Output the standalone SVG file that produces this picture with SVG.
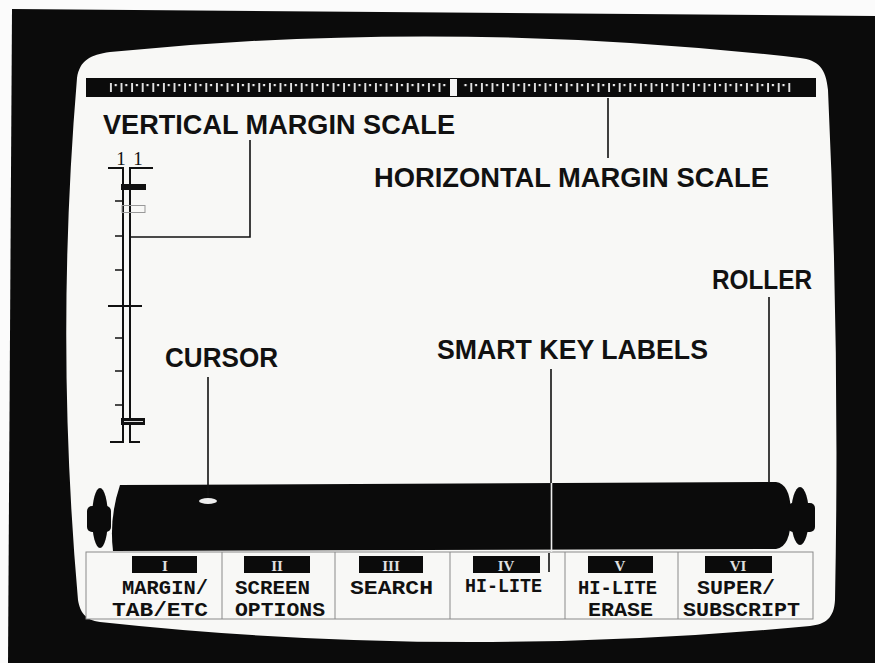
<svg xmlns="http://www.w3.org/2000/svg" width="875" height="663" viewBox="0 0 875 663">
<style>
.lbl{font-family:"Liberation Sans",Arial,sans-serif;font-weight:bold;font-size:27px;fill:#111}
.key{font-family:"Liberation Mono","DejaVu Sans Mono",monospace;font-weight:bold;font-size:21px;fill:#111}
.num{font-family:"Liberation Serif",serif;font-weight:bold;font-size:15px;fill:#e0e0e0;text-anchor:middle}
.dig{font-family:"Liberation Serif",serif;font-size:19px;fill:#111;text-anchor:middle}
.lead{stroke:#111;stroke-width:1.6;fill:none}
.div{stroke:#8a8a8a;stroke-width:1;fill:none}
.blk{fill:#0b0b0b}
</style>
<defs>
<pattern id="ruler" x="108" y="78" width="10.6" height="20" patternUnits="userSpaceOnUse">
<rect x="2" y="5" width="1.8" height="9" fill="#eee"/>
<rect x="6.6" y="6" width="2.2" height="2.2" fill="#eee"/>
</pattern>
</defs>
<rect width="875" height="663" fill="#fbfbfb"/>
<polygon class="blk" points="12,9 875,16 875,663 8,663"/>
<path id="screen" d="M77 78 C80 60 90 55 110 52 Q450 18 800 58 C818 60 826 68 828 90 Q840 350 835 600 C834 618 826 624 810 626 Q450 660 100 622 C85 620 80 612 78 600 Q55 340 77 78 Z" fill="#f8f8f6"/>

<g id="horizontal-scale">
<rect class="blk" x="86" y="78" width="730" height="19"/>
<rect x="108" y="78" width="340" height="19" fill="url(#ruler)"/>
<rect x="462" y="78" width="330" height="19" fill="url(#ruler)"/>
<rect x="450" y="79" width="7" height="17" fill="#f4f4f4"/>
</g>

<g id="vertical-scale" fill="none" stroke="#111">
<text class="dig" x="121" y="165" stroke="none">1</text>
<text class="dig" x="138" y="165" stroke="none">1</text>
<path stroke-width="2" d="M108 168 H123 V442 H110 M153 168 H130 V442 H140 M108 306 H142"/>
<path stroke-width="1.5" d="M115 201 H122 M115 236 H122 M115 270 H122 M115 338 H122 M115 371 H122 M115 405 H122"/>
<rect x="121" y="184" width="25" height="6" fill="#111" stroke="none"/>
<rect x="122" y="205.5" width="23" height="7" stroke="#999" stroke-width="1"/>
<rect x="121" y="418" width="24" height="7" fill="#111" stroke="none"/>
<line x1="124" y1="421.5" x2="143" y2="421.5" stroke="#ddd" stroke-width="1"/>
</g>

<g id="roller">
<path class="blk" d="M120 485 L776 482 Q791 484 791 515 Q791 547 776 549 L113 551 Q109 518 120 485 Z"/>
<ellipse class="blk" cx="100" cy="518" rx="8" ry="30"/>
<rect class="blk" x="87" y="506" width="24" height="26" rx="5"/>
<ellipse class="blk" cx="800" cy="516" rx="9" ry="29"/>
<rect class="blk" x="788" y="503" width="27" height="29" rx="5"/>
<ellipse cx="208" cy="501" rx="9" ry="3" fill="#eee"/>
</g>

<g id="key-strip">
<rect x="86" y="552" width="727" height="67" fill="#f8f8f6" stroke="#8a8a8a" stroke-width="1"/>
<path class="div" d="M222 552 V619 M335 552 V619 M450 552 V619 M565 552 V619 M678 552 V619"/>
</g>

<g id="key-1">
<rect class="blk" x="132" y="556" width="65" height="17"/>
<text class="num" x="165" y="571">I</text>
<text class="key" x="122" y="594" textLength="86" lengthAdjust="spacingAndGlyphs">MARGIN/</text>
<text class="key" x="112" y="616" textLength="96" lengthAdjust="spacingAndGlyphs">TAB/ETC</text>
</g>
<g id="key-2">
<rect class="blk" x="244" y="556" width="66" height="17"/>
<text class="num" x="277" y="571">II</text>
<text class="key" x="235" y="594" textLength="75" lengthAdjust="spacingAndGlyphs">SCREEN</text>
<text class="key" x="235" y="616" textLength="90" lengthAdjust="spacingAndGlyphs">OPTIONS</text>
</g>
<g id="key-3">
<rect class="blk" x="359" y="556" width="64" height="17"/>
<text class="num" x="391" y="571">III</text>
<text class="key" x="350" y="594" textLength="83" lengthAdjust="spacingAndGlyphs">SEARCH</text>
</g>
<g id="key-4">
<rect class="blk" x="473" y="556" width="67" height="17"/>
<text class="num" x="506" y="571">IV</text>
<text class="key" x="465" y="592" textLength="77" lengthAdjust="spacingAndGlyphs">HI-LITE</text>
</g>
<g id="key-5">
<rect class="blk" x="588" y="556" width="65" height="17"/>
<text class="num" x="620" y="571">V</text>
<text class="key" x="578" y="594" textLength="79" lengthAdjust="spacingAndGlyphs">HI-LITE</text>
<text class="key" x="588" y="616" textLength="65" lengthAdjust="spacingAndGlyphs">ERASE</text>
</g>
<g id="key-6">
<rect class="blk" x="705" y="556" width="67" height="17"/>
<text class="num" x="738" y="571">VI</text>
<text class="key" x="697" y="594" textLength="78" lengthAdjust="spacingAndGlyphs">SUPER/</text>
<text class="key" x="683" y="616" textLength="117" lengthAdjust="spacingAndGlyphs">SUBSCRIPT</text>
</g>

<g id="label-vertical"><text class="lbl" x="103" y="134" textLength="352" lengthAdjust="spacingAndGlyphs">VERTICAL MARGIN SCALE</text></g>
<g id="label-horizontal"><text class="lbl" x="374" y="187" textLength="395" lengthAdjust="spacingAndGlyphs">HORIZONTAL MARGIN SCALE</text></g>
<g id="label-roller"><text class="lbl" x="712" y="289" textLength="100" lengthAdjust="spacingAndGlyphs">ROLLER</text></g>
<g id="label-smart"><text class="lbl" x="437" y="359" textLength="271" lengthAdjust="spacingAndGlyphs">SMART KEY LABELS</text></g>
<g id="label-cursor"><text class="lbl" x="165" y="367" textLength="113" lengthAdjust="spacingAndGlyphs">CURSOR</text></g>

<g id="connectors">
<path class="lead" d="M131 237 H250 V140"/>
<path class="lead" d="M608 98 V158"/>
<path class="lead" d="M769 297 V483"/>
<path class="lead" d="M208 377 V498"/>
<path class="lead" d="M551 369 V483"/>
<path d="M551.5 483 V552" stroke="#eee" stroke-width="1.6"/>
<path class="lead" d="M549 553 V572"/>
</g>
</svg>
